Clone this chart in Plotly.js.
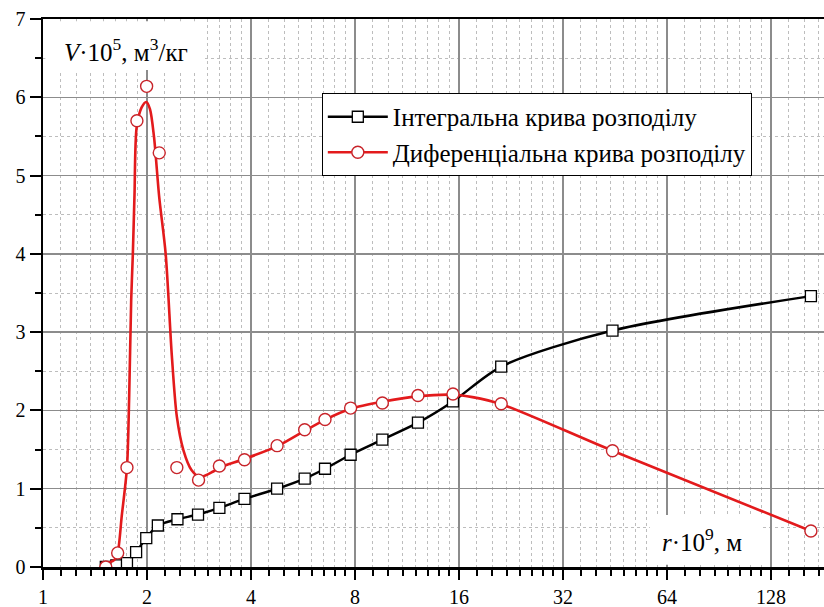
<!DOCTYPE html>
<html>
<head>
<meta charset="utf-8">
<script src="https://cdn.plot.ly/plotly-3.0.1.min.js"></script>
<style>
  html, body { margin: 0; padding: 0; background: #fff; }
  #chart { width: 824px; height: 607px; }
</style>
</head>
<body>
<div id="chart"></div>
<script>
// ---- data (r·10^9, m ; V·10^5, m^3/kg) ----
const rPoints = [1.52, 1.63, 1.75, 1.86, 1.99, 2.15, 2.45, 2.81, 3.24, 3.83, 4.76, 5.72, 6.55, 7.77, 9.60, 12.17, 15.37, 21.2, 44.5, 167];
const vIntegral = [0.0, 0.02, 0.05, 0.19, 0.37, 0.53, 0.61, 0.67, 0.755, 0.87, 1.0, 1.13, 1.255, 1.434, 1.626, 1.843, 2.115, 2.56, 3.02, 3.46];
const rDiffPoints = [1.52, 1.645, 1.75, 1.87, 1.995, 2.17, 2.44, 2.82, 3.24, 3.83, 4.76, 5.72, 6.55, 7.77, 9.60, 12.17, 15.37, 21.2, 44.5, 167];
const vDifferential = [0.0, 0.18, 1.27, 5.70, 6.14, 5.29, 1.27, 1.11, 1.29, 1.37, 1.55, 1.753, 1.885, 2.03, 2.094, 2.19, 2.21, 2.085, 1.485, 0.46];
// smoothed differential curve as drawn in the figure
const rDiffCurve = [1.47, 1.56, 1.61, 1.645, 1.69, 1.75, 1.775, 1.80, 1.82, 1.84, 1.867, 1.93, 1.99, 2.04, 2.095, 2.17, 2.265, 2.36, 2.44, 2.55, 2.69, 2.85, 3.11, 3.24, 3.83, 4.75, 5.72, 6.55, 7.77, 9.60, 12.17, 15.4, 17.5, 21.2, 44.5, 167];
const vDiffCurve = [0.05, 0.06, 0.09, 0.18, 0.65, 1.27, 2.13, 3.41, 4.0, 4.75, 5.62, 5.87, 5.94, 5.85, 5.50, 4.72, 4.0, 2.70, 1.92, 1.49, 1.24, 1.15, 1.22, 1.27, 1.38, 1.54, 1.74, 1.88, 2.02, 2.11, 2.18, 2.20, 2.17, 2.08, 1.485, 0.46];

const xTickVals = [1, 2, 4, 8, 16, 32, 64, 128];
const xTickText = ['1', '2', '4', '8', '16', '32', '64', '128'];
const seriesNames = ['Інтегральна крива розподілу', 'Диференціальна крива розподілу'];

// minor ticks: 7 per octave
const xMinor = [];
for (let k = 0; k < 8; k++) {
  const b = Math.pow(2, k);
  for (let j = 1; j < 8; j++) xMinor.push(b * (1 + j / 8));
}

const RED = '#e31a1c';
const FONT = 'Liberation Serif, Times New Roman, serif';

const traces = [
  {
    x: rPoints, y: vIntegral, name: seriesNames[0],
    mode: 'lines+markers', type: 'scatter',
    line: { color: '#000', width: 2.5, shape: 'spline', smoothing: 0.8 },
    marker: { symbol: 'square', size: 11, color: '#fff', line: { color: '#000', width: 1.3 } }
  },
  {
    x: rDiffCurve, y: vDiffCurve, mode: 'lines', type: 'scatter', showlegend: false,
    line: { color: RED, width: 2.6, shape: 'spline', smoothing: 0.8 }, hoverinfo: 'skip'
  },
  {
    x: rDiffPoints, y: vDifferential, mode: 'markers', type: 'scatter', showlegend: false,
    marker: { symbol: 'circle', size: 12, color: '#fff', line: { color: '#c8242a', width: 1.4 } }
  },
  {
    x: [null], y: [null], name: seriesNames[1], mode: 'lines+markers', type: 'scatter',
    line: { color: RED, width: 2.6 },
    marker: { symbol: 'circle', size: 12, color: '#fff', line: { color: '#c8242a', width: 1.4 } }
  }
];

const octavePx = 104;
const plotW = 824 - 43;
const xMaxLog = Math.log10(2) * plotW / octavePx;

const layout = {
  width: 824, height: 607,
  margin: { l: 43, r: 0, t: 19, b: 40 },
  paper_bgcolor: '#fff', plot_bgcolor: '#fff',
  font: { family: FONT, size: 20, color: '#000' },
  showlegend: true,
  legend: {
    x: 0.357, y: 0.865, xanchor: 'left', yanchor: 'top',
    bgcolor: '#fff', bordercolor: '#000', borderwidth: 1,
    font: { family: FONT, size: 25, color: '#000' },
    tracegroupgap: 0, itemwidth: 60
  },
  xaxis: {
    type: 'log', range: [0, xMaxLog],
    tickmode: 'array', tickvals: xTickVals, ticktext: xTickText,
    ticks: 'outside', ticklen: 10, tickwidth: 2, tickcolor: '#000',
    showline: true, linecolor: '#000', linewidth: 2.5, mirror: true,
    showgrid: true, gridcolor: '#8c8c8c', gridwidth: 1.5,
    zeroline: false,
    tickfont: { family: FONT, size: 20, color: '#000' },
    minor: {
      tickmode: 'array', tickvals: xMinor,
      ticks: 'outside', ticklen: 6, tickwidth: 2, tickcolor: '#000',
      showgrid: true, gridcolor: '#bdbdbd', gridwidth: 1, griddash: 'dot'
    }
  },
  yaxis: {
    range: [0, 7],
    tickmode: 'linear', tick0: 0, dtick: 1,
    ticks: 'outside', ticklen: 11, tickwidth: 2, tickcolor: '#000',
    showline: true, linecolor: '#000', linewidth: 2.5, mirror: false,
    showgrid: true, gridcolor: '#8c8c8c', gridwidth: 1.5,
    zeroline: false,
    tickfont: { family: FONT, size: 20, color: '#000' },
    minor: {
      tickmode: 'linear', tick0: 0, dtick: 0.5,
      ticks: 'outside', ticklen: 6, tickwidth: 2, tickcolor: '#000',
      showgrid: true, gridcolor: '#bdbdbd', gridwidth: 1, griddash: 'dot'
    }
  },
  shapes: [
    { type: 'rect', xref: 'paper', yref: 'paper', x0: 0.003, x1: 0.205, y0: 0.907, y1: 0.996,
      fillcolor: '#fff', line: { width: 0 }, layer: 'above' },
    { type: 'rect', xref: 'paper', yref: 'paper', x0: 0.777, x1: 0.921, y0: 0.004, y1: 0.095,
      fillcolor: '#fff', line: { width: 0 }, layer: 'above' }
  ],
  annotations: [
    { xref: 'paper', yref: 'paper', x: 0.024, y: 0.943, xanchor: 'left', yanchor: 'middle',
      text: '<i>V</i>·10<sup>5</sup>, м<sup>3</sup>/кг', showarrow: false,
      font: { family: FONT, size: 25, color: '#000' } },
    { xref: 'paper', yref: 'paper', x: 0.79, y: 0.05, xanchor: 'left', yanchor: 'middle',
      text: '<i>r</i>·10<sup>9</sup>, м', showarrow: false,
      font: { family: FONT, size: 25, color: '#000' } }
  ]
};

Plotly.newPlot('chart', traces, layout, { staticPlot: true, displayModeBar: false });
</script>
</body>
</html>
